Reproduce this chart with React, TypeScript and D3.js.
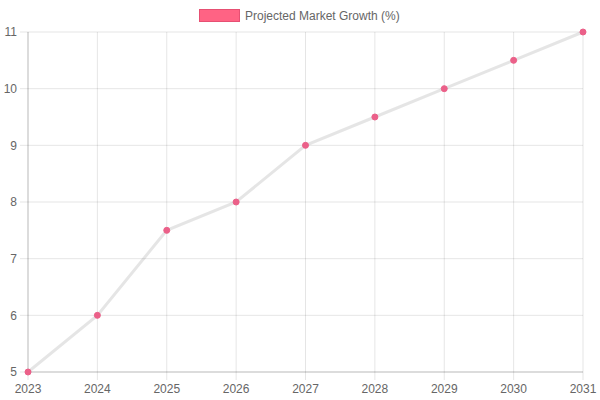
import React from "react";
import * as d3 from "d3";

const years = ["2023", "2024", "2025", "2026", "2027", "2028", "2029", "2030", "2031"];
const growth = [5, 6, 7.5, 8, 9, 9.5, 10, 10.5, 11];
const yTicks = [5, 6, 7, 8, 9, 10, 11];
const seriesLabel = "Projected Market Growth (%)";

const W = 600, H = 400;
const left = 28, right = 583, top = 32, bottom = 372;

export default function App() {
  const x = d3.scalePoint<string>().domain(years).range([left, right]);
  const y = d3.scaleLinear().domain([5, 11]).range([bottom, top]);
  const line = d3.line<number>().x((_, i) => x(years[i])!).y((d) => y(d));
  const font = "'Liberation Sans', Arial, Helvetica, sans-serif";
  return (
    <svg width={W} height={H} style={{ position: "absolute", left: 0, top: 0 }} fontFamily={font}>
      <rect x={0} y={0} width={W} height={H} fill="#fff" />
      {yTicks.map((t) => (
        <g key={"y" + t}>
          <line x1={left - 8} x2={right} y1={y(t)} y2={y(t)} stroke="rgba(0,0,0,0.1)" />
          <text x={left - 11} y={y(t)} dy="0.35em" textAnchor="end" fontSize={12} fill="#666">{t}</text>
        </g>
      ))}
      {years.map((yr) => (
        <g key={"x" + yr}>
          <line x1={x(yr)} x2={x(yr)} y1={top} y2={bottom + 8} stroke="rgba(0,0,0,0.1)" />
          <text x={x(yr)} y={bottom + 17} dy="0.35em" textAnchor="middle" fontSize={12} fill="#666">{yr}</text>
        </g>
      ))}
      <line x1={left} x2={left} y1={top} y2={bottom} stroke="rgba(0,0,0,0.18)" />
      <line x1={left} x2={right} y1={bottom} y2={bottom} stroke="rgba(0,0,0,0.18)" />
      <path d={line(growth) ?? ""} fill="none" stroke="rgba(0,0,0,0.1)" strokeWidth={3} />
      {growth.map((v, i) => (
        <circle key={i} cx={x(years[i])} cy={y(v)} r={3} fill="rgb(235,96,137)" stroke="rgb(235,96,137)" strokeWidth={1} />
      ))}
      <rect x={199.5} y={9.5} width={40} height={12} fill="rgb(255,99,132)" stroke="rgb(230,80,115)" strokeWidth={1} />
      <text x={245} y={16} dy="0.35em" fontSize={12} fill="#666">{seriesLabel}</text>
    </svg>
  );
}
